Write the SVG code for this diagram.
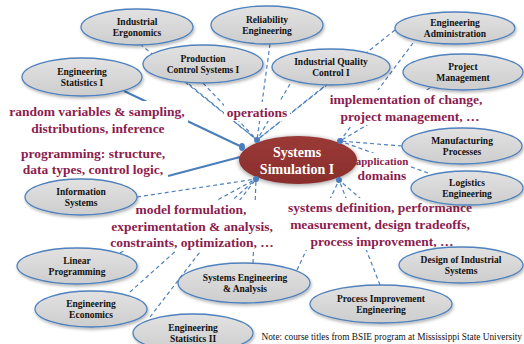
<svg xmlns="http://www.w3.org/2000/svg" width="524" height="344" viewBox="0 0 524 344">
  <defs>
    <linearGradient id="nodeFill" x1="0" y1="0" x2="0" y2="1">
      <stop offset="0" stop-color="#e2e2e2"/>
      <stop offset="1" stop-color="#cdcdcd"/>
    </linearGradient>
    <linearGradient id="hubFill" x1="0" y1="0" x2="0" y2="1">
      <stop offset="0" stop-color="#9a3a37"/>
      <stop offset="1" stop-color="#8a2e2c"/>
    </linearGradient>
    <filter id="shadow" x="-20%" y="-30%" width="140%" height="170%">
      <feDropShadow dx="1" dy="2" stdDeviation="1.4" flood-color="#000" flood-opacity="0.28"/>
    </filter>
    <filter id="glow" x="-20%" y="-40%" width="140%" height="180%">
      <feGaussianBlur in="SourceAlpha" stdDeviation="2.5"/>
      <feOffset dy="1"/>
      <feComponentTransfer><feFuncA type="linear" slope="0.45"/></feComponentTransfer>
      <feMerge><feMergeNode/><feMergeNode in="SourceGraphic"/></feMerge>
    </filter>
  </defs>
  <style>
    .node ellipse { fill: url(#nodeFill); stroke: #4f81bd; stroke-width: 1.3; filter: url(#shadow); }
    .node text { font-family: "Liberation Serif", "Times New Roman", serif; font-weight: bold; font-size: 9.5px; fill: #111; text-anchor: middle; }
    .dash { fill: none; stroke: #4f81bd; stroke-width: 1.2; stroke-dasharray: 4 3; }
    .solid { fill: none; stroke: #4a7ebb; stroke-width: 2; }
    .dot { fill: #4a7ebb; }
    .box { fill: #fff; }
    .topic { font-family: "Liberation Serif", "Times New Roman", serif; font-weight: bold; font-size: 13.5px; fill: #8c1c4d; text-anchor: middle; }
    .hub text { font-family: "Liberation Serif", "Times New Roman", serif; font-weight: bold; font-size: 14px; fill: #fff; text-anchor: middle; }
    .note { font-family: "Liberation Serif", "Times New Roman", serif; font-size: 9.3px; fill: #111; text-anchor: end; }
  </style>

  <!-- connectors: dashed links fan into four anchor points on the hub, solid links from the left -->
  <g id="connectors">
    <!-- top anchor -->
    <line class="dash" x1="140" y1="44" x2="257" y2="140"/>
    <line class="dash" x1="185" y1="82" x2="257" y2="140"/>
    <line class="dash" x1="203" y1="83" x2="257" y2="140"/>
    <line class="dash" x1="270" y1="44" x2="257" y2="140"/>
    <line class="dash" x1="290" y1="84" x2="257" y2="140"/>
    <line class="dash" x1="328" y1="84" x2="257" y2="140"/>
    <line class="dash" x1="395" y1="30" x2="257" y2="140"/>
    <!-- upper right anchor -->
    <line class="dash" x1="413" y1="43" x2="340" y2="141"/>
    <line class="dash" x1="430" y1="88" x2="340" y2="141"/>
    <line class="dash" x1="402" y1="146" x2="340" y2="141"/>
    <line class="dash" x1="428" y1="173" x2="340" y2="141"/>
    <!-- lower right anchor -->
    <line class="dash" x1="380" y1="285" x2="339" y2="180"/>
    <line class="dash" x1="420" y1="250" x2="339" y2="180"/>
    <line class="dash" x1="297" y1="270" x2="339" y2="180"/>
    <!-- lower left anchor -->
    <line class="dash" x1="253" y1="263" x2="256" y2="179"/>
    <line class="dash" x1="130" y1="292" x2="256" y2="179"/>
    <line class="dash" x1="150" y1="317" x2="256" y2="179"/>
    <line class="dash" x1="120" y1="253" x2="256" y2="179"/>
    <line class="dash" x1="137" y1="197" x2="256" y2="179"/>
    <!-- solid links -->
    <line class="solid" x1="124" y1="91" x2="242" y2="147"/>
    <line class="solid" x1="168" y1="176" x2="240" y2="157"/>
  </g>

  <!-- topic text blocks on white panels -->
  <g id="topics">
    <rect class="box" x="8" y="101" width="180" height="36"/>
    <text class="topic" x="97" y="116">random variables &amp; sampling,</text>
    <text class="topic" x="98" y="133">distributions, inference</text>

    <rect class="box" x="18" y="143" width="150" height="35"/>
    <text class="topic" x="93" y="158">programming: structure,</text>
    <text class="topic" x="93" y="174">data types, control logic,</text>

    <rect class="box" x="224" y="102" width="66" height="19"/>
    <text class="topic" x="257" y="117">operations</text>

    <rect class="box" x="330" y="90" width="154" height="35"/>
    <text class="topic" x="406" y="104">implementation of change,</text>
    <text class="topic" x="410" y="121">project management, …</text>

    <rect class="box" x="355" y="153" width="55" height="30"/>
    <text class="topic" x="382" y="165" style="font-size:11px">application</text>
    <text class="topic" x="382" y="180">domains</text>

    <rect class="box" x="110" y="200" width="166" height="51"/>
    <text class="topic" x="191" y="214">model formulation,</text>
    <text class="topic" x="192" y="231">experimentation &amp; analysis,</text>
    <text class="topic" x="192" y="247">constraints, optimization, …</text>

    <rect class="box" x="287" y="198" width="187" height="52"/>
    <text class="topic" x="380" y="212">systems definition, performance</text>
    <text class="topic" x="380" y="229">measurement, design tradeoffs,</text>
    <text class="topic" x="382" y="246">process improvement, …</text>
  </g>

  <!-- course nodes -->
  <g id="industrial-ergonomics" class="node">
    <ellipse cx="137" cy="27" rx="56" ry="18"/>
    <text x="137" y="24.5">Industrial</text><text x="137" y="35.5">Ergonomics</text>
  </g>
  <g id="reliability-engineering" class="node">
    <ellipse cx="267" cy="25" rx="56" ry="19"/>
    <text x="267" y="22.5">Reliability</text><text x="267" y="33.5">Engineering</text>
  </g>
  <g id="production-control" class="node">
    <ellipse cx="203" cy="64" rx="60" ry="19"/>
    <text x="203" y="61.5">Production</text><text x="203" y="72.5">Control Systems I</text>
  </g>
  <g id="industrial-quality-control" class="node">
    <ellipse cx="331" cy="67" rx="59" ry="18"/>
    <text x="331" y="64.5">Industrial Quality</text><text x="331" y="75.5">Control I</text>
  </g>
  <g id="engineering-administration" class="node">
    <ellipse cx="455" cy="28" rx="60" ry="16"/>
    <text x="455" y="25.5">Engineering</text><text x="455" y="36.5">Administration</text>
  </g>
  <g id="project-management" class="node">
    <ellipse cx="463" cy="72" rx="60" ry="18"/>
    <text x="463" y="69.5">Project</text><text x="463" y="80.5">Management</text>
  </g>
  <g id="engineering-statistics-1" class="node">
    <ellipse cx="82" cy="77" rx="60" ry="19"/>
    <text x="82" y="74.5">Engineering</text><text x="82" y="85.5">Statistics I</text>
  </g>
  <g id="information-systems" class="node">
    <ellipse cx="81" cy="197" rx="56" ry="18"/>
    <text x="81" y="194.5">Information</text><text x="81" y="205.5">Systems</text>
  </g>
  <g id="manufacturing-processes" class="node">
    <ellipse cx="462" cy="146" rx="60" ry="18"/>
    <text x="462" y="143.5">Manufacturing</text><text x="462" y="154.5">Processes</text>
  </g>
  <g id="logistics-engineering" class="node">
    <ellipse cx="467" cy="188" rx="56" ry="17"/>
    <text x="467" y="185.5">Logistics</text><text x="467" y="196.5">Engineering</text>
  </g>
  <g id="design-industrial-systems" class="node">
    <ellipse cx="461" cy="265" rx="62" ry="18"/>
    <text x="461" y="262.5">Design of Industrial</text><text x="461" y="273.5">Systems</text>
  </g>
  <g id="process-improvement" class="node">
    <ellipse cx="381" cy="304" rx="71" ry="19"/>
    <text x="381" y="301.5">Process Improvement</text><text x="381" y="312.5">Engineering</text>
  </g>
  <g id="systems-engineering" class="node">
    <ellipse cx="244" cy="283" rx="66" ry="20"/>
    <text x="245" y="280.5">Systems Engineering</text><text x="245" y="291.5">&amp; Analysis</text>
  </g>
  <g id="linear-programming" class="node">
    <ellipse cx="77" cy="266" rx="60" ry="18"/>
    <text x="77" y="263.5">Linear</text><text x="77" y="274.5">Programming</text>
  </g>
  <g id="engineering-economics" class="node">
    <ellipse cx="91" cy="309" rx="56" ry="18"/>
    <text x="91" y="306.5">Engineering</text><text x="91" y="317.5">Economics</text>
  </g>
  <g id="engineering-statistics-2" class="node">
    <ellipse cx="193" cy="333" rx="60" ry="19"/>
    <text x="193" y="330.5">Engineering</text><text x="193" y="341.5">Statistics II</text>
  </g>

  <!-- hub -->
  <g id="systems-simulation" class="hub">
    <ellipse cx="298" cy="160" rx="59" ry="24" fill="url(#hubFill)" filter="url(#glow)"/>
    <text x="297" y="157">Systems</text>
    <text x="297" y="174">Simulation I</text>
  </g>

  <!-- anchor dots -->
  <g id="anchors">
    <ellipse class="dot" cx="242" cy="147" rx="3" ry="4"/>
    <ellipse class="dot" cx="257" cy="140" rx="3" ry="3"/>
    <ellipse class="dot" cx="340" cy="141" rx="3" ry="3"/>
    <ellipse class="dot" cx="339" cy="180" rx="3" ry="3"/>
    <ellipse class="dot" cx="256" cy="179" rx="3" ry="3"/>
  </g>

  <text class="note" x="522" y="340">Note: course titles from BSIE program at Mississippi State University</text>
</svg>
